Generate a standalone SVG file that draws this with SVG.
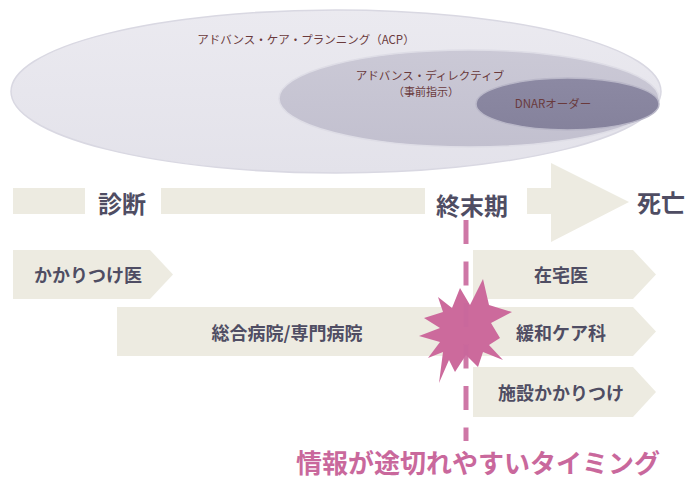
<svg xmlns="http://www.w3.org/2000/svg" width="686" height="479" viewBox="0 0 686 479">
<defs>
<linearGradient id="gBig" x1="0" y1="0" x2="0" y2="1">
<stop offset="0" stop-color="#ebeaf0"/><stop offset="1" stop-color="#e3e2ea"/>
</linearGradient>
<linearGradient id="gMid" x1="0" y1="0" x2="0" y2="1">
<stop offset="0" stop-color="#cbc9d6"/><stop offset="1" stop-color="#c2c0cf"/>
</linearGradient>
<linearGradient id="gSmall" x1="0" y1="0" x2="0" y2="1">
<stop offset="0" stop-color="#8c89a3"/><stop offset="1" stop-color="#85829c"/>
</linearGradient>
<style>
.beige{fill:#edebe1}
.lbl{font-family:"Noto Sans CJK JP","Noto Sans",sans-serif;fill:#4f4d63;text-anchor:middle;dominant-baseline:central}
.big{font-size:24px;font-weight:700}
.mid{font-size:18px;font-weight:700}
.ell{font-family:"Noto Sans CJK JP","Noto Sans",sans-serif;fill:#6a3a3c;text-anchor:middle;dominant-baseline:central;font-size:11.5px}
.ell2{font-size:11px}
.pink{font-family:"Noto Sans CJK JP","Noto Sans",sans-serif;fill:#c9689c;font-size:26px;font-weight:700;text-anchor:middle;dominant-baseline:central}
</style>
</defs>
<rect width="686" height="479" fill="#ffffff"/>

<g id="acp">
<ellipse cx="336" cy="91.5" rx="325" ry="81.5" fill="url(#gBig)" stroke="#d9d8e2" stroke-width="1.5"/>
<text class="ell" x="306" y="39">アドバンス・ケア・プランニング（ACP）</text>
</g>
<g id="ad">
<ellipse cx="469" cy="98.5" rx="190" ry="48.5" fill="url(#gMid)" stroke="#dedde6" stroke-width="1.5"/>
<text class="ell" x="430" y="75">アドバンス・ディレクティブ</text>
<text class="ell ell2" x="426" y="91">（事前指示）</text>
</g>
<g id="dnar">
<ellipse cx="567.5" cy="104" rx="91.5" ry="26" fill="url(#gSmall)" stroke="#b9b7c8" stroke-width="1.5"/>
<text class="ell" x="553" y="103">DNARオーダー</text>
</g>

<g id="timeline">
<rect class="beige" x="13" y="188" width="72" height="26"/>
<text class="lbl big" x="122" y="202">診断</text>
<rect class="beige" x="161" y="188" width="264" height="26"/>
<text class="lbl big" x="472" y="204">終末期</text>
<polygon class="beige" points="527,188 551,188 551,163 629,202 551,242 551,214 527,214"/>
<text class="lbl big" x="661" y="201">死亡</text>
</g>

<g id="kakaritsuke">
<polygon class="beige" points="13,250 150,250 173,274.5 150,299 13,299"/>
<text class="lbl mid" x="88" y="274">かかりつけ医</text>
</g>
<g id="sogo">
<rect class="beige" x="117" y="307" width="350" height="49"/>
<text class="lbl mid" x="287" y="332">総合病院/専門病院</text>
</g>
<g id="zaitaku">
<polygon class="beige" points="473,250 633,250 656,274.5 633,299 473,299"/>
<text class="lbl mid" x="561" y="274">在宅医</text>
</g>
<g id="kanwa">
<polygon class="beige" points="473,307 633,307 656,331.5 633,356 473,356"/>
<text class="lbl mid" x="561" y="332">緩和ケア科</text>
</g>
<g id="shisetsu">
<polygon class="beige" points="473,367 633,367 656,392 633,417 473,417"/>
<text class="lbl mid" x="561" y="392">施設かかりつけ</text>
</g>

<g id="burst">
<polygon fill="#cc6a9c" points="483,279 489,305 512,312 491,323 500,338 489,345 503,360 483,352 478,367 466,355 455,372 449,360 439,383 443,352 428,358 440,342 419,336 440,328 424,318 443,312 438,297 452,308 460,288 470,305"/>
</g>

<g id="connectors">
<line x1="466" y1="220" x2="466" y2="441" stroke="#c9689c" stroke-width="5" stroke-dasharray="24 17.5" stroke-opacity="0.9"/>
</g>

<g id="caption">
<text class="pink" x="478" y="461">情報が途切れやすいタイミング</text>
</g>
</svg>
